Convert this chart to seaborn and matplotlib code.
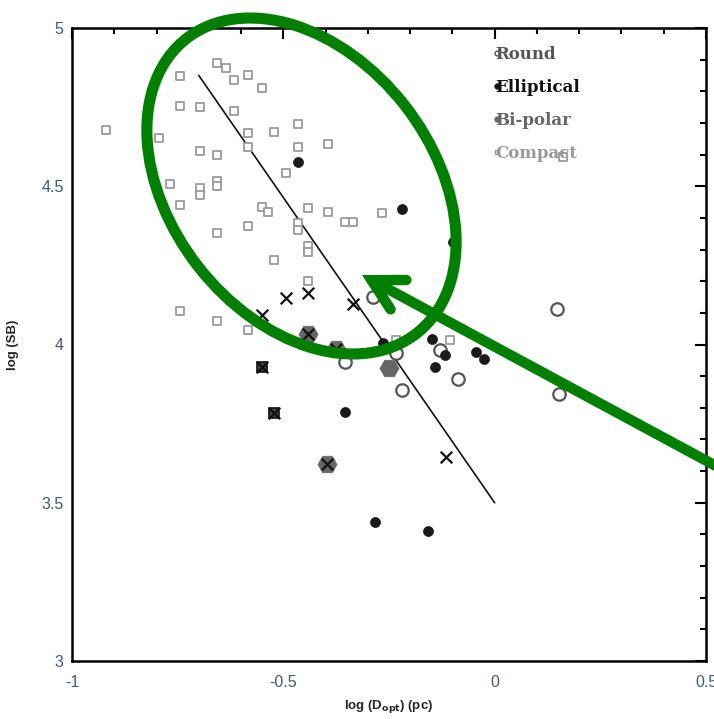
import numpy as np
import pandas as pd
import matplotlib
matplotlib.use("Agg")
import matplotlib.pyplot as plt
import matplotlib.patches as mpatches
from matplotlib.lines import Line2D
from matplotlib.ticker import MultipleLocator, FuncFormatter
import seaborn as sns

# ---------------- data ----------------
compact_x = [-0.920, -0.794, -0.745, -0.745, -0.697, -0.697, -0.657, -0.768, -0.697, -0.697,
             -0.657, -0.657, -0.745, -0.657, -0.657, -0.636, -0.617, -0.584, -0.551, -0.617,
             -0.584, -0.584, -0.522, -0.465, -0.465, -0.494, -0.551, -0.536, -0.584, -0.465,
             -0.465, -0.442, -0.394, -0.354, -0.335, -0.522, -0.442, -0.442, -0.442, -0.394,
             -0.745, -0.657, -0.584, -0.267, -0.106, -0.233, 0.162]
compact_y = [4.678, 4.652, 4.848, 4.754, 4.750, 4.611, 4.599, 4.507, 4.494, 4.472,
             4.517, 4.501, 4.441, 4.352, 4.889, 4.874, 4.836, 4.852, 4.810, 4.738,
             4.668, 4.624, 4.671, 4.697, 4.624, 4.542, 4.434, 4.419, 4.374, 4.384,
             4.362, 4.431, 4.419, 4.387, 4.387, 4.267, 4.311, 4.292, 4.201, 4.633,
             4.106, 4.074, 4.046, 4.415, 4.014, 4.014, 4.592]

elliptical_x = [-0.465, -0.219, -0.099, -0.148, -0.118, -0.141, -0.044, -0.025, -0.264, -0.354, -0.283, -0.158]
elliptical_y = [4.577, 4.428, 4.324, 4.017, 3.967, 3.929, 3.976, 3.954, 4.005, 3.787, 3.439, 3.411]

round_x = [0.147, 0.152, -0.129, -0.087, -0.219, -0.354, -0.234, -0.288]
round_y = [4.112, 3.844, 3.983, 3.891, 3.856, 3.945, 3.973, 4.150]

bipolar_x = [-0.442, -0.397, -0.375, -0.250]
bipolar_y = [4.033, 3.622, 3.985, 3.926]

boxed_x = [-0.551, -0.522]
boxed_y = [3.929, 3.784]

cross_x = [-0.551, -0.494, -0.442, -0.335, -0.115, -0.442, -0.397, -0.375, -0.551, -0.522]
cross_y = [4.093, 4.147, 4.163, 4.128, 3.644, 4.033, 3.622, 3.985, 3.929, 3.784]

fit_x = [-0.70, 0.0]
fit_y = [4.85, 3.50]

legend_labels = ["Round", "Elliptical", "Bi-polar", "Compact"]
legend_colors = ["#555555", "#111111", "#666666", "#999999"]

x_ticks = [-1, -0.5, 0, 0.5]
y_ticks = [3, 3.5, 4, 4.5, 5]

# ---------------- figure ----------------
sns.set_style("white")
plt.rcParams["font.family"] = ["Liberation Sans", "DejaVu Sans"]

fig = plt.figure(figsize=(7.14, 7.19), dpi=100)
ax = fig.add_axes([72 / 714, 58 / 719, 634 / 714, 633 / 719])

sns.scatterplot(x=compact_x, y=compact_y, ax=ax, marker="s", s=38,
                facecolor="white", edgecolor="#9a9a9a", linewidth=1.3, zorder=3)
sns.scatterplot(x=round_x, y=round_y, ax=ax, marker="o", s=80,
                facecolor="white", edgecolor="#555555", linewidth=1.6, zorder=3)
sns.scatterplot(x=elliptical_x, y=elliptical_y, ax=ax, marker="o", s=52,
                color="#1a1a1a", edgecolor="#1a1a1a", linewidth=0.5, zorder=4)
sns.scatterplot(x=bipolar_x, y=bipolar_y, ax=ax, marker="H", s=190,
                color="#666666", edgecolor="#666666", linewidth=0.5, zorder=4)
sns.scatterplot(x=boxed_x, y=boxed_y, ax=ax, marker="s", s=60,
                facecolor="#444444", edgecolor="#111111", linewidth=1.2, zorder=4)
sns.scatterplot(x=cross_x, y=cross_y, ax=ax, marker="x", s=70,
                color="#111111", linewidth=1.6, zorder=5)
sns.lineplot(x=fit_x, y=fit_y, ax=ax, color="#111111", linewidth=1.2, zorder=2)

ax.set_xlim(-1, 0.5)
ax.set_ylim(3, 5)
ax.set_xticks(x_ticks)
ax.set_yticks(y_ticks)
ax.xaxis.set_minor_locator(MultipleLocator(0.1))
ax.yaxis.set_minor_locator(MultipleLocator(0.1))
fmt = FuncFormatter(lambda v, p: ("%g" % v).replace("\u2212", "-"))
ax.xaxis.set_major_formatter(fmt)
ax.yaxis.set_major_formatter(fmt)
ax.tick_params(which="both", direction="in", top=True, right=True, width=1.5, color="black")
ax.tick_params(which="major", length=8)
ax.tick_params(which="minor", length=4.5)
ax.tick_params(axis="both", which="major", labelsize=11.5, labelcolor="#3d5a80")
ax.tick_params(axis="x", which="major", pad=10)
ax.tick_params(axis="y", which="major", pad=6)
for sp in ax.spines.values():
    sp.set_linewidth(1.8)
    sp.set_color("black")

ax.set_xlabel(r"log (D$_{\mathbf{opt}}$) (pc)", fontsize=9.5, fontweight="bold", labelpad=6)
ax.set_ylabel("log (SB)", fontsize=9.5, fontweight="bold", labelpad=16)

# legend
handles = [Line2D([], [], linestyle="none", marker=m, markersize=3.5,
                  markerfacecolor=fc, markeredgecolor=c, markeredgewidth=1)
           for m, fc, c in zip(["o", "o", "o", "s"],
                               ["white", "#111111", "#666666", "white"],
                               legend_colors)]
leg = ax.legend(handles, legend_labels, loc="upper left", bbox_to_anchor=(0.64, 0.995),
                frameon=False, handlelength=0.5, handletextpad=-0.35, labelspacing=0.95,
                prop={"family": "DejaVu Serif", "weight": "bold", "size": 12})
for t, c in zip(leg.get_texts(), legend_colors):
    t.set_color(c)

# green annotation: ellipse and arrow (figure-inch coordinates)
ell = mpatches.Ellipse((3.015, 5.33), 3.74, 2.62, angle=128, fill=False,
                       edgecolor="#007f00", linewidth=8, transform=fig.dpi_scale_trans,
                       zorder=10)
fig.add_artist(ell)
arr = mpatches.FancyArrowPatch((7.16, 2.53), (3.62, 4.44),
                               arrowstyle="->,head_length=22,head_width=12",
                               mutation_scale=1, color="#007f00", linewidth=7.5,
                               transform=fig.dpi_scale_trans, zorder=10,
                               shrinkA=0, shrinkB=0, capstyle="round", joinstyle="miter")
fig.add_artist(arr)

fig.savefig("out.png", dpi=100)
